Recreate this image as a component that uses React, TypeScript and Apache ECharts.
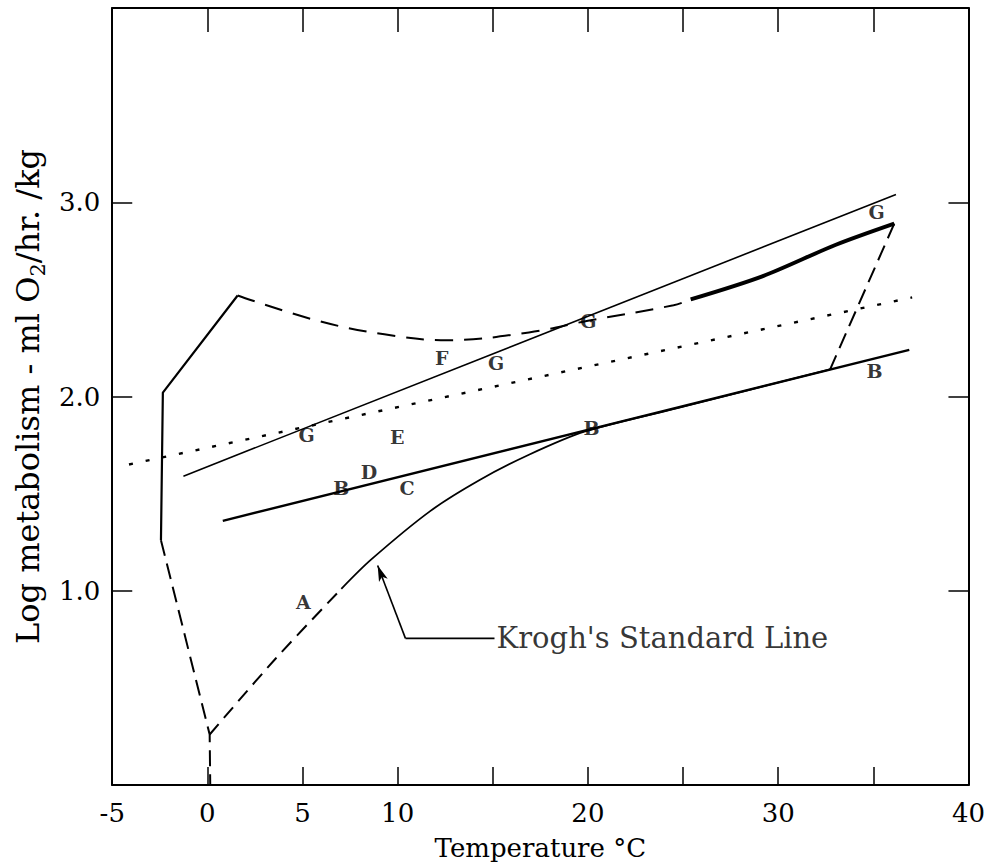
import React, { useEffect, useRef } from "react";
import * as echarts from "echarts";

// ---- tick labels ----
const xLabelled = [-5, 0, 5, 10, 20, 30, 40];
const yLabelled = [1, 2, 3];

// ---- curves (temperature °C, log metabolism) ----
const leftSolid = [[-2.44, 1.26], [-2.34, 2.02], [1.59, 2.52]];
const leftDashed = [[-2.44, 1.26], [0.12, 0.26], [0.15, 0]];
const upperDashedCurve = [[1.59, 2.52], [5.8, 2.39], [9.3, 2.32], [12.6, 2.29], [16.9, 2.33], [20, 2.39], [24.5, 2.47], [25.4, 2.5]];
const upperThick = [[25.4, 2.5], [29.2, 2.62], [33, 2.78], [36.1, 2.89]];
const rightDashed = [[36.1, 2.89], [32.73, 2.14]];
const gLine = [[-1.26, 1.59], [36.19, 3.04]];
const dottedLine = [[-4.12, 1.65], [37.04, 2.51]];
const bLine = [[0.81, 1.36], [36.89, 2.24]];
const kroghDashed = [[0.12, 0.26], [3.58, 0.65], [7.04, 1.01]];
const kroghSolid = [[7.04, 1.01], [8.6, 1.16], [11.71, 1.41], [14.31, 1.57], [16.9, 1.7], [19.85, 1.82], [24.7, 1.94], [32.73, 2.14]];

// ---- letter labels ----
const letterNames = ["G", "F", "G", "G", "G", "E", "D", "B", "C", "B", "B", "A"];
const letterPos = [[5.22, 1.8], [12.32, 2.2], [15.17, 2.17], [20.02, 2.39], [35.17, 2.95], [9.98, 1.79], [8.49, 1.61], [7.04, 1.53], [10.5, 1.53], [20.19, 1.84], [35.07, 2.13], [5.05, 0.94]];

// ---- Krogh annotation ----
const kroghLeader = [[15.09, 0.755], [10.41, 0.755]];
const kroghArrowFrom = [10.41, 0.755];
const kroghArrowTo = [8.95, 1.13];
const kroghLabelPos = [15.2, 0.755];
const kroghLabel = "Krogh's Standard Line";

const FONT = "DejaVu Serif";
const BLACK = "#000";

function lineSeries(data: number[][], width: number, type: any = "solid", smooth: number | boolean = false) {
  return {
    type: "line",
    data,
    symbol: "none",
    smooth,
    lineStyle: { color: BLACK, width, type, cap: "butt" },
    silent: true,
    z: 3,
  };
}

export default function App() {
  const ref = useRef<HTMLDivElement>(null);
  useEffect(() => {
    const chart = echarts.init(ref.current!, null, { renderer: "svg" });
    const axisLine = { show: true, onZero: false, lineStyle: { color: BLACK, width: 2 } };
    const option: any = {
      animation: false,
      backgroundColor: "#fff",
      grid: { left: 108, right: 13, top: 8, bottom: 83 },
      xAxis: [
        {
          type: "value", min: -5, max: 40, interval: 5, position: "bottom",
          axisLine, splitLine: { show: false },
          axisTick: { show: true, inside: true, length: 18, lineStyle: { color: BLACK, width: 1.5 } },
          axisLabel: {
            formatter: (v: number) => (xLabelled.includes(v) ? String(v) : ""),
            margin: 15, fontFamily: FONT, fontSize: 26, color: BLACK,
            showMinLabel: true, showMaxLabel: true,
          },
          name: "Temperature °C", nameLocation: "middle", nameGap: 50,
          nameTextStyle: { fontFamily: FONT, fontSize: 26, color: BLACK },
        },
        {
          type: "value", min: -5, max: 40, interval: 5, position: "top",
          axisLine, splitLine: { show: false },
          axisTick: { show: true, inside: true, length: 24, lineStyle: { color: BLACK, width: 1.5 } },
          axisLabel: { show: false },
        },
      ],
      yAxis: [
        {
          type: "value", min: 0, max: 4, interval: 1, position: "left",
          axisLine, splitLine: { show: false },
          axisTick: { show: true, inside: true, length: 20, lineStyle: { color: BLACK, width: 1.5 } },
          axisLabel: {
            formatter: (v: number) => (yLabelled.includes(v) ? v.toFixed(1) : ""),
            margin: 12, fontFamily: FONT, fontSize: 26, color: BLACK,
          },
          name: "Log metabolism - ml O{sub|2}/hr. /kg", nameLocation: "middle", nameGap: 64,
          nameTextStyle: {
            fontFamily: FONT, fontSize: 32, color: BLACK, lineHeight: 40,
            rich: { sub: { fontFamily: FONT, fontSize: 21, color: BLACK, verticalAlign: "bottom", lineHeight: 22 } },
          },
        },
        {
          type: "value", min: 0, max: 4, interval: 1, position: "right",
          axisLine, splitLine: { show: false },
          axisTick: { show: true, inside: true, length: 20, lineStyle: { color: BLACK, width: 1.5 } },
          axisLabel: { show: false },
        },
      ],
      series: [
        lineSeries(leftSolid, 2.2),
        lineSeries(leftDashed, 2, [16, 8]),
        lineSeries(upperDashedCurve, 2, [18, 11], 0.4),
        lineSeries(upperThick, 4, "solid", 0.3),
        lineSeries(rightDashed, 2, [16, 8]),
        lineSeries(gLine, 1.6),
        lineSeries(dottedLine, 2.4, [4, 13]),
        lineSeries(bLine, 2.4),
        lineSeries(kroghDashed, 2, [14, 8], 0.3),
        lineSeries(kroghSolid, 1.8, "solid", 0.3),
        {
          type: "line",
          data: kroghLeader,
          symbol: "none",
          lineStyle: { color: BLACK, width: 1.6 },
          silent: true,
          markLine: {
            silent: true,
            symbol: ["none", "arrow"],
            symbolSize: [7, 16],
            label: { show: false },
            lineStyle: { color: BLACK, width: 1.6, type: "solid" },
            data: [[{ coord: kroghArrowFrom }, { coord: kroghArrowTo }]],
          },
        },
        {
          type: "scatter",
          data: letterPos.map((p, i) => [p[0], p[1], letterNames[i]]),
          symbolSize: 0,
          silent: true,
          label: {
            show: true, position: "inside",
            formatter: (p: any) => p.data[2],
            fontFamily: FONT, fontSize: 19, fontWeight: "bold", color: BLACK,
          },
          z: 5,
        },
        {
          type: "scatter",
          data: [[kroghLabelPos[0], kroghLabelPos[1], kroghLabel]],
          symbolSize: 0,
          silent: true,
          label: {
            show: true, position: "right", distance: 0,
            formatter: (p: any) => p.data[2],
            fontFamily: FONT, fontSize: 29, color: BLACK,
          },
          z: 5,
        },
      ],
    };
    chart.setOption(option);
    return () => chart.dispose();
  }, []);
  return (
    <div
      ref={ref}
      style={{ position: "fixed", left: 0, top: 0, width: 988, height: 868, background: "#fff" }}
    />
  );
}
